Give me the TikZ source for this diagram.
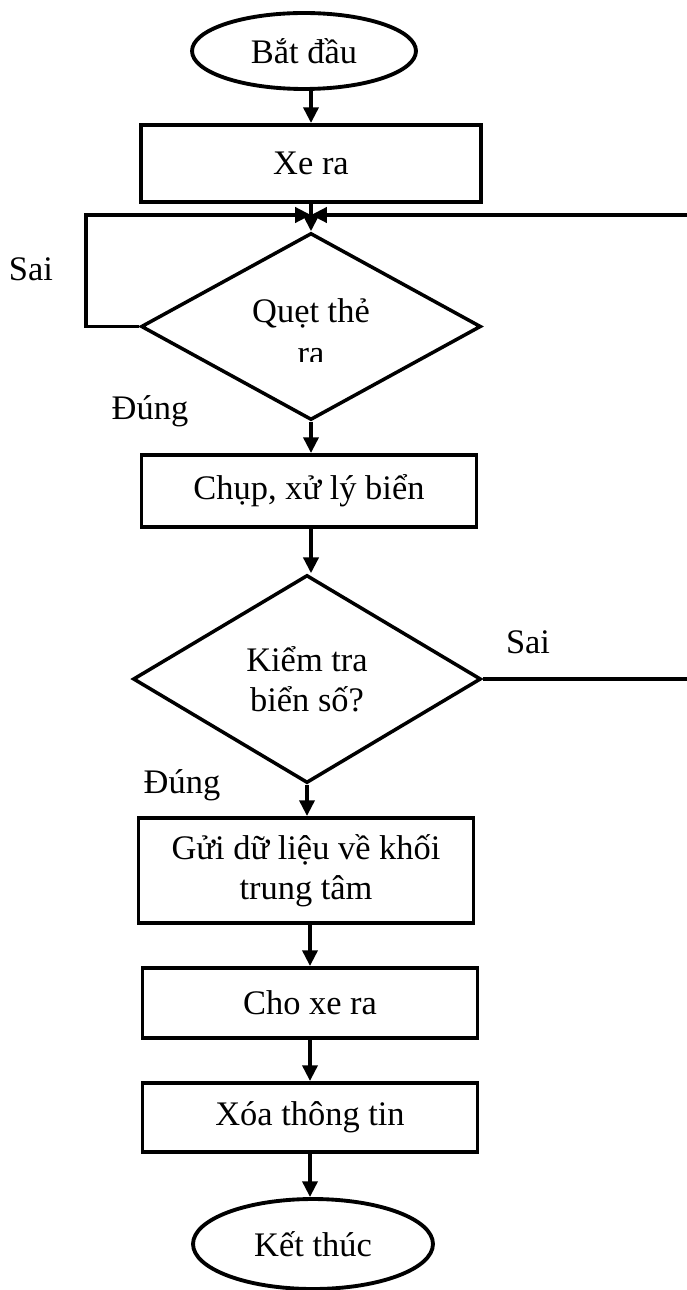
\documentclass[tikz,border=0pt]{standalone}
\usepackage{fontspec}
\setmainfont{Liberation Serif}
\usetikzlibrary{shapes.geometric,arrows.meta}

\begin{document}
\begin{tikzpicture}[x=0.02cm,y=-0.02cm,
    font=\fontsize{19.6}{22.7}\selectfont,
    startstop/.style={ellipse,draw,line width=2.2pt,inner sep=0pt},
    process/.style={rectangle,draw,line width=2.2pt,align=center,inner sep=0pt},
    decision/.style={diamond,draw,line width=2pt,align=center,inner sep=0pt},
    flow/.style={line width=2.2pt,-{Triangle[length=9pt,width=8.5pt]}},
    link/.style={line width=2.2pt}]

\useasboundingbox (0,0) rectangle (686,1290);

% Main column
\node[startstop,minimum width=4.48cm,minimum height=1.52cm] (start) at (304,51) {Bắt đầu};
\node[process,minimum width=6.8cm,minimum height=1.54cm] (xera) at (311,163.5) {Xe ra};
\coordinate (merge) at (311,215);
\node[decision,minimum width=6.8cm,minimum height=3.74cm] (quet) at (311,326.5) {};
\node[process,minimum width=6.7cm,minimum height=1.44cm] (chup) at (309,491) {Chụp, xử lý biển};
\node[decision,minimum width=6.96cm,minimum height=4.16cm] (kiem) at (307,679) {Kiểm tra\\biển số?};
\node[process,minimum width=6.7cm,minimum height=2.1cm] (gui) at (306,870.5) {Gửi dữ liệu về khối\\trung tâm};
\node[process,minimum width=6.7cm,minimum height=1.4cm] (cho) at (310,1003) {Cho xe ra};
\node[process,minimum width=6.7cm,minimum height=1.38cm] (xoa) at (310,1117.5) {Xóa thông tin};
\node[startstop,minimum width=4.8cm,minimum height=1.8cm] (ket) at (313,1244) {Kết thúc};

% Text of the first decision, second line cut off
\node[anchor=base] (quetA) at (311,323) {Quẹt thẻ};
\begin{scope}
\clip (142,233) rectangle (482,362);
\node[anchor=base] (quetB) at (311,365) {ra};
\end{scope}

% Branch labels
\node[anchor=base] (sai1) at (31,281) {Sai};
\node[anchor=base] (dung1) at (150,419) {Đúng};
\node[anchor=base] (sai2) at (528,653) {Sai};
\node[anchor=base] (dung2) at (182,793) {Đúng};

% Arrows
\draw[flow] (start.south -| xera.north) -- (xera.north);
\draw[flow] (xera.south) -- (quet.north);
\draw[flow] (quet.south) -- (quet.south |- chup.north);
\draw[flow] (chup.south -| quet.south) -- (quet.south |- kiem.north);
\draw[flow] (kiem.south) -- (kiem.south |- gui.north);
\draw[flow] (gui.south -| cho.north) -- (cho.north);
\draw[flow] (cho.south) -- (xoa.north);
\draw[flow] (xoa.south) -- (xoa.south |- ket.north);

% Loops back to the card reader
\draw[flow] (quet.west) -- ++(-53,0) |- (merge);
\coordinate (rim) at (692,0);
\draw[flow] (kiem.east) -- (kiem.east -| rim) |- (merge);

\end{tikzpicture}
\end{document}
